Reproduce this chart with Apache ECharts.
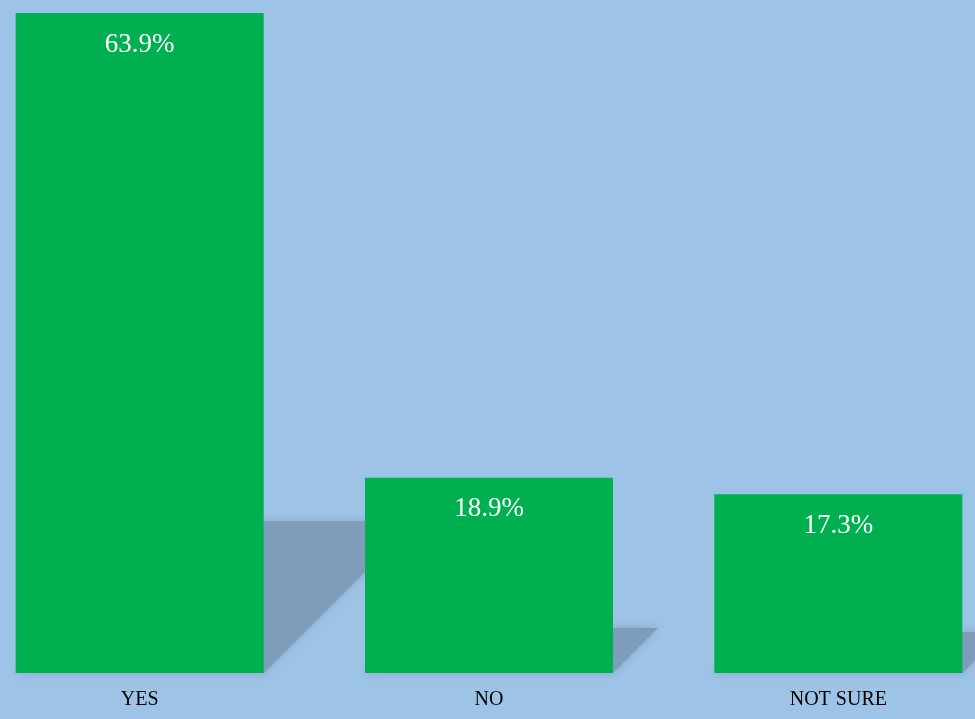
<!DOCTYPE html>
<html>
<head>
<meta charset="utf-8">
<script src="https://cdn.jsdelivr.net/npm/echarts@6/dist/echarts.min.js"></script>
<style>
  html, body { margin: 0; padding: 0; background: #9dc3e6; }
  #container { width: 975px; height: 719px; }
</style>
</head>
<body>
<div id="container"></div>
<script>
// 数据
var categories = ['YES', 'NO', 'NOT SURE'];
var values = [63.9, 18.9, 17.3];

var barGap = '29%';
var shadowRatio = 0.23;   // 影子相对柱高的比例

var dom = document.getElementById('container');
var myChart = echarts.init(dom);

// 柱子后面的斜影
function renderShadow(params, api) {
    var i = api.value(0);
    var v = api.value(1);
    var bottom = api.coord([i, 0]);
    var top = api.coord([i, v]);
    var bandW = api.size([1, 0])[0];
    var hw = bandW * 0.71 / 2;
    var h = bottom[1] - top[1];
    var d = h * shadowRatio;
    return {
        type: 'polygon',
        shape: {
            points: [
                [bottom[0] - hw, bottom[1]],
                [bottom[0] + hw, bottom[1]],
                [bottom[0] + hw + d, bottom[1] - d],
                [bottom[0] - hw + d, bottom[1] - d]
            ]
        },
        style: {
            fill: '#7f9dba',
            shadowBlur: 8,
            shadowColor: '#8aa6c4'
        }
    };
}

var option = {
    backgroundColor: '#9dc3e6',
    animation: false,
    grid: {
        left: -35,
        width: 1048,
        top: 13,
        bottom: 46,
        outerBoundsMode: 'none'
    },
    xAxis: {
        type: 'category',
        data: categories,
        axisLine: { show: false },
        axisTick: { show: false },
        axisLabel: {
            color: '#000',
            fontFamily: 'Liberation Serif',
            fontSize: 20,
            margin: 17
        }
    },
    yAxis: {
        type: 'value',
        min: 0,
        max: 63.9,
        show: false,
        splitLine: { show: false }
    },
    series: [
        {
            type: 'custom',
            renderItem: renderShadow,
            data: values.map(function (v, i) { return [i, v]; }),
            z: 1,
            silent: true
        },
        {
            type: 'bar',
            data: values,
            barCategoryGap: barGap,
            z: 2,
            itemStyle: { color: '#00b050' },
            label: {
                show: true,
                position: 'insideTop',
                distance: 18,
                color: '#fff',
                fontFamily: 'Liberation Serif',
                fontSize: 27,
                formatter: function (p) { return p.value.toFixed(1) + '%'; }
            }
        }
    ]
};
myChart.setOption(option, true);
</script>
</body>
</html>
